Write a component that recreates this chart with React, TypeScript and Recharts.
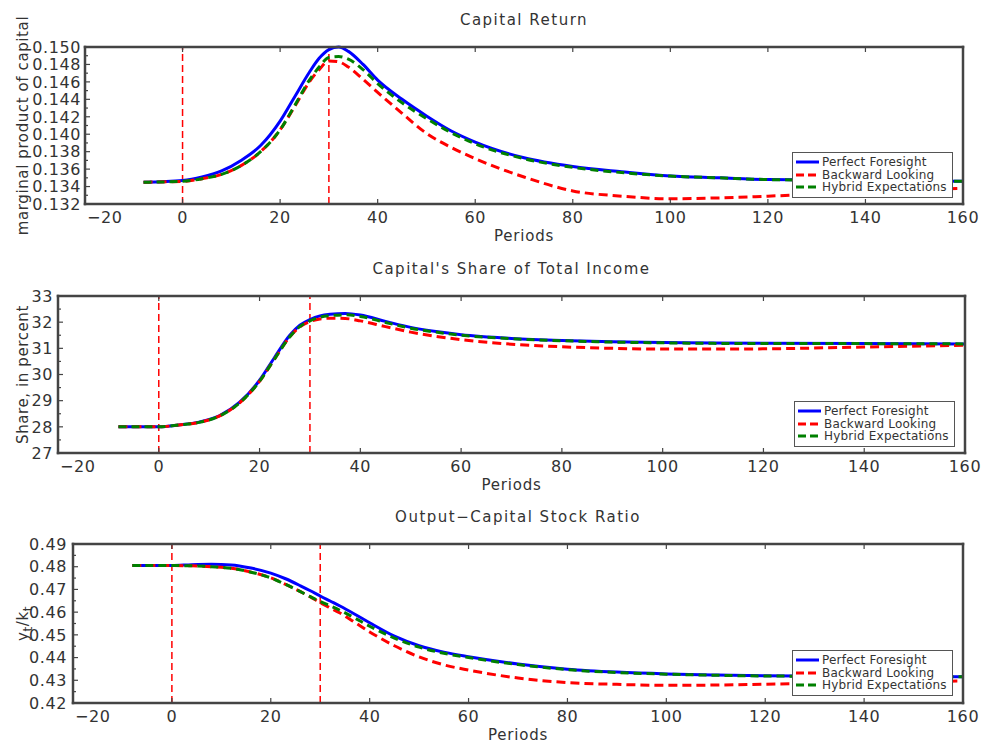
import React from 'react';
import { LineChart, Line, XAxis, YAxis, ReferenceLine, Legend, Label } from 'recharts';

// periods shared by every series
const periods = [-8, 0, 4, 8, 12, 16, 20, 23, 26, 28, 30, 32, 34, 37, 40, 45, 50, 55, 60, 70, 80, 90, 100, 110, 120, 140, 160];

const returnPF = [0.1345, 0.1347, 0.1351, 0.1358, 0.137, 0.1387, 0.1415, 0.1443, 0.1471, 0.1487, 0.1497, 0.15, 0.1495, 0.148, 0.1462, 0.144, 0.1421, 0.1404, 0.1391, 0.1373, 0.1363, 0.1357, 0.1352, 0.135, 0.1348, 0.1347, 0.1346];
const returnBL = [0.1345, 0.1346, 0.1349, 0.1354, 0.1364, 0.138, 0.1405, 0.1432, 0.146, 0.1474, 0.1484, 0.1483, 0.1477, 0.1463, 0.1448, 0.1424, 0.1401, 0.1385, 0.1372, 0.1351, 0.1335, 0.1329, 0.1326, 0.1327, 0.1329, 0.1334, 0.1338];
const returnHY = [0.1345, 0.1346, 0.1349, 0.1354, 0.1364, 0.138, 0.1405, 0.1433, 0.1462, 0.1477, 0.1488, 0.1489, 0.1486, 0.1474, 0.1458, 0.1436, 0.1418, 0.1402, 0.1389, 0.1372, 0.1362, 0.1356, 0.1352, 0.135, 0.1348, 0.1347, 0.1346];

const sharePF = [28.0, 28.0, 28.07, 28.18, 28.42, 28.93, 29.78, 30.66, 31.5, 31.88, 32.1, 32.24, 32.3, 32.33, 32.27, 32.03, 31.8, 31.64, 31.52, 31.38, 31.3, 31.25, 31.22, 31.2, 31.19, 31.18, 31.17];
const shareBL = [28.0, 28.0, 28.07, 28.17, 28.41, 28.91, 29.74, 30.6, 31.44, 31.82, 32.02, 32.12, 32.15, 32.14, 32.05, 31.83, 31.62, 31.46, 31.33, 31.16, 31.06, 31.0, 30.97, 30.97, 30.98, 31.05, 31.12];
const shareHY = [28.0, 28.0, 28.07, 28.17, 28.41, 28.91, 29.74, 30.6, 31.44, 31.83, 32.05, 32.19, 32.25, 32.28, 32.22, 31.99, 31.77, 31.62, 31.5, 31.37, 31.29, 31.24, 31.21, 31.19, 31.18, 31.18, 31.17];

const ratioPF = [0.4805, 0.4805, 0.4809, 0.4811, 0.4808, 0.4794, 0.4772, 0.4747, 0.4716, 0.4694, 0.4671, 0.4649, 0.4627, 0.4591, 0.4553, 0.4494, 0.4452, 0.4424, 0.4404, 0.4372, 0.4349, 0.4336, 0.4328, 0.4323, 0.432, 0.4317, 0.4316];
const ratioBL = [0.4805, 0.4805, 0.4804, 0.48, 0.4793, 0.4776, 0.4751, 0.4722, 0.469, 0.4667, 0.4642, 0.4619, 0.4596, 0.4555, 0.4513, 0.4452, 0.4403, 0.4368, 0.4345, 0.431, 0.429, 0.4282, 0.4278, 0.4279, 0.4283, 0.429, 0.4297];
const ratioHY = [0.4805, 0.4805, 0.4804, 0.48, 0.4793, 0.4776, 0.4751, 0.4722, 0.469, 0.4668, 0.4647, 0.4628, 0.4608, 0.4574, 0.4538, 0.4486, 0.4446, 0.4419, 0.44, 0.4369, 0.4347, 0.4334, 0.4327, 0.4322, 0.4319, 0.4317, 0.4316];

// dashed vertical markers
const shockPeriods = [0, 30];

const xTicks = [-20, 0, 20, 40, 60, 80, 100, 120, 140, 160];
const returnTicks = [0.132, 0.133, 0.134, 0.135, 0.136, 0.137, 0.138, 0.139, 0.14, 0.141, 0.142, 0.143, 0.144, 0.145, 0.146, 0.147, 0.148, 0.149, 0.15];
const shareTicks = [27, 27.5, 28, 28.5, 29, 29.5, 30, 30.5, 31, 31.5, 32, 32.5, 33];
const ratioTicks = [0.42, 0.425, 0.43, 0.435, 0.44, 0.445, 0.45, 0.455, 0.46, 0.465, 0.47, 0.475, 0.48, 0.485, 0.49];

const seriesNames = ['Perfect Foresight', 'Backward Looking', 'Hybrid Expectations'];
const seriesColors = ['#0000ff', '#ff0000', '#008000'];
const seriesDash = [undefined, '9 5', '8 5'];
const seriesKeys = ['pf', 'bl', 'hy'];

const FONT = '"DejaVu Sans", sans-serif';
const INK = '#333';
const FRAME = '#444';

function rows(pf: number[], bl: number[], hy: number[]) {
  return periods.map((t, i) => ({ t, pf: pf[i], bl: bl[i], hy: hy[i] }));
}

function YTick(props: any) {
  const { x, y, index, side, gap, digits } = props;
  const major = index % 2 === 0;
  const len = major ? 5 : 3;
  const dir = side === 'left' ? 1 : -1;
  return (
    <g>
      <line x1={x} y1={y} x2={x + dir * len} y2={y} stroke={FRAME} strokeWidth={1.2} />
      {side === 'left' && major ? (
        <text x={x - gap} y={y} dy="0.36em" textAnchor="end" fontFamily={FONT} fontSize={16} fill={INK} letterSpacing={0.6}>
          {Number(props.payload.value).toFixed(digits)}
        </text>
      ) : null}
    </g>
  );
}

function XTick(props: any) {
  const { x, y, side, payload, index } = props;
  const dir = side === 'bottom' ? -1 : 1;
  const v = payload.value as number;
  const first = index === 0;
  return (
    <g>
      <line x1={x} y1={y} x2={x} y2={y + dir * 5} stroke={FRAME} strokeWidth={1.2} />
      {side === 'bottom' ? (
        <text x={first ? x + 2 : x} y={y + 18.7} textAnchor={first ? 'start' : 'middle'} fontFamily={FONT} fontSize={16} fill={INK} letterSpacing={0.6}>
          {v < 0 ? '\u2212' + Math.abs(v) : String(v)}
        </text>
      ) : null}
    </g>
  );
}

function LegendBox() {
  return (
    <div style={{ border: '1px solid #555', background: '#fff', padding: '3px 5px 3px 3px', fontFamily: FONT, fontSize: 12, color: INK, letterSpacing: 0.2, lineHeight: '12.5px' }}>
      {seriesNames.map((n, i) => (
        <div key={n} style={{ display: 'flex', alignItems: 'center', whiteSpace: 'nowrap' }}>
          <svg width={23} height={12} style={{ marginRight: 3 }}>
            <line x1={0} y1={6} x2={23} y2={6} stroke={seriesColors[i]} strokeWidth={3} strokeDasharray={i === 0 ? undefined : '8 4'} />
          </svg>
          <span>{n}</span>
        </div>
      ))}
    </div>
  );
}

type PanelProps = {
  top: number;
  height: number;
  title: string;
  yLabel: React.ReactNode;
  data: any[];
  yTicks: number[];
  digits: number;
  axisWidth: number;
  gap: number;
  margin: { top: number; right: number; bottom: number; left: number };
  xAxisHeight: number;
  legendPos: { left: number; top: number };
};

function Panel(p: PanelProps) {
  const domain: [number, number] = [p.yTicks[0], p.yTicks[p.yTicks.length - 1]];
  const frameLine = { stroke: FRAME, strokeWidth: 2.5, strokeLinecap: 'square' as const };
  return (
    <div style={{ position: 'absolute', left: 0, top: p.top }}>
      <LineChart width={982} height={p.height} data={p.data} margin={p.margin}>
        <XAxis
          dataKey="t"
          type="number"
          domain={[-20, 160]}
          ticks={xTicks}
          interval={0}
          height={p.xAxisHeight}
          axisLine={frameLine}
          tickLine={false}
          tickSize={0}
          tickMargin={0}
          tick={<XTick side="bottom" />}
        >
          <Label
            content={({ viewBox }: any) => (
              <text x={viewBox.x + viewBox.width / 2} y={viewBox.y + 36.5} textAnchor="middle" fontFamily={FONT} fontSize={15} fill={INK} letterSpacing={0.8}>
                Periods
              </text>
            )}
          />
        </XAxis>
        <XAxis
          xAxisId="top"
          orientation="top"
          dataKey="t"
          type="number"
          domain={[-20, 160]}
          ticks={xTicks}
          interval={0}
          height={1}
          axisLine={frameLine}
          tickLine={false}
          tickSize={0}
          tickMargin={0}
          tick={<XTick side="top" />}
        >
          <Label
            content={({ viewBox }: any) => (
              <text x={viewBox.x + viewBox.width / 2} y={viewBox.y + viewBox.height - 22} textAnchor="middle" fontFamily={FONT} fontSize={15} fill={INK} letterSpacing={1.5}>
                {p.title}
              </text>
            )}
          />
        </XAxis>
        <YAxis
          type="number"
          domain={domain}
          ticks={p.yTicks}
          interval={0}
          width={p.axisWidth}
          axisLine={frameLine}
          tickLine={false}
          tickSize={0}
          tickMargin={0}
          tick={<YTick side="left" gap={p.gap} digits={p.digits} />}
        >
          <Label
            content={({ viewBox }: any) => {
              const cx = viewBox.x + 23;
              const cy = viewBox.y + viewBox.height / 2;
              return (
                <text x={cx} y={cy} dy="0.35em" textAnchor="middle" transform={`rotate(-90, ${cx}, ${cy})`} fontFamily={FONT} fontSize={15} fill={INK} letterSpacing={0.6}>
                  {p.yLabel}
                </text>
              );
            }}
          />
        </YAxis>
        <YAxis
          yAxisId="right"
          orientation="right"
          type="number"
          domain={domain}
          ticks={p.yTicks}
          interval={0}
          width={1}
          axisLine={frameLine}
          tickLine={false}
          tickSize={0}
          tickMargin={0}
          tick={<YTick side="right" gap={0} digits={p.digits} />}
        />
        {shockPeriods.map((s) => (
          <ReferenceLine key={s} x={s} stroke="#ff0000" strokeWidth={1.5} strokeDasharray="7 4" />
        ))}
        {seriesKeys.map((k, i) => (
          <Line
            key={k}
            dataKey={k}
            name={seriesNames[i]}
            type="monotone"
            stroke={seriesColors[i]}
            strokeWidth={3}
            strokeDasharray={seriesDash[i]}
            dot={false}
            activeDot={false}
            isAnimationActive={false}
          />
        ))}
        <Legend
          layout="vertical"
          align="center"
          verticalAlign="middle"
          content={() => <LegendBox />}
          wrapperStyle={{ position: 'absolute', left: p.legendPos.left, top: p.legendPos.top, width: 'auto', height: 'auto' }}
        />
      </LineChart>
    </div>
  );
}

export default function App() {
  const sub = (s: string) => <tspan dy={4} fontSize={12}>{s}</tspan>;
  return (
    <div style={{ position: 'absolute', left: 0, top: 0, width: 982, height: 742, background: '#fff' }}>
      <Panel
        top={0}
        height={247}
        title="Capital Return"
        yLabel="marginal product of capital"
        data={rows(returnPF, returnBL, returnHY)}
        yTicks={returnTicks}
        digits={3}
        axisWidth={85}
        gap={4}
        margin={{ top: 46, right: 18, bottom: 3, left: 0 }}
        xAxisHeight={40}
        legendPos={{ left: 792, top: 152 }}
      />
      <Panel
        top={247}
        height={250}
        title="Capital's Share of Total Income"
        yLabel="Share, in percent"
        data={rows(sharePF, shareBL, shareHY)}
        yTicks={shareTicks}
        digits={0}
        axisWidth={58}
        gap={5}
        margin={{ top: 48, right: 16, bottom: 4, left: 0 }}
        xAxisHeight={40}
        legendPos={{ left: 794, top: 154 }}
      />
      <Panel
        top={497}
        height={245}
        title={'Output\u2212Capital Stock Ratio'}
        yLabel={
          <>
            <tspan>y</tspan>
            {sub('t')}
            <tspan dy={-4}>/k</tspan>
            {sub('t')}
          </>
        }
        data={rows(ratioPF, ratioBL, ratioHY)}
        yTicks={ratioTicks}
        digits={2}
        axisWidth={73}
        gap={6}
        margin={{ top: 46, right: 18, bottom: 1, left: 0 }}
        xAxisHeight={38}
        legendPos={{ left: 792, top: 153 }}
      />
    </div>
  );
}
